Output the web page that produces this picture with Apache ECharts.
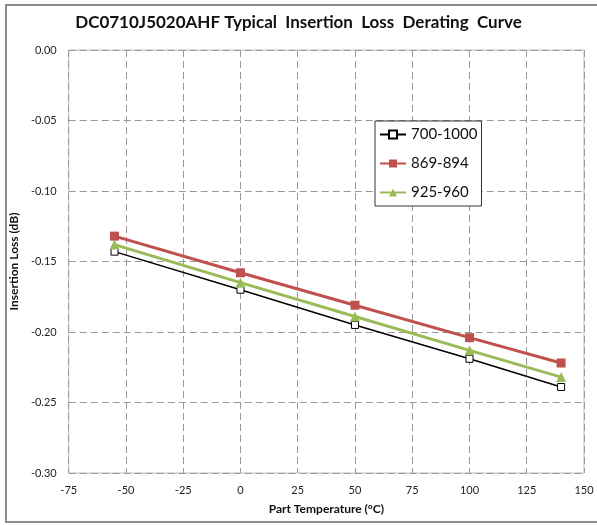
<!DOCTYPE html>
<html>
<head>
<meta charset="utf-8">
<script src="https://cdn.jsdelivr.net/npm/echarts@6/dist/echarts.min.js"></script>
<style>
  html, body { margin: 0; padding: 0; background: #fff; }
  #chart { width: 597px; height: 525px; }
</style>
</head>
<body>
<div id="chart"></div>
<script>
// temperatures (°C)
const temps = [-55, 0, 50, 100, 140];
// insertion loss (dB) per band
const loss700_1000 = [-0.143, -0.170, -0.195, -0.219, -0.239];
const loss869_894 = [-0.132, -0.158, -0.181, -0.204, -0.222];
const loss925_960 = [-0.138, -0.165, -0.189, -0.213, -0.232];
const seriesNames = ["700-1000", "869-894", "925-960"];

const pairs = (ys) => temps.map((t, i) => [t, ys[i]]);

const myChart = echarts.init(document.getElementById("chart"));
const font = "Lato, 'Open Sans', sans-serif";

let option = {
  animation: false,
  backgroundColor: "#fff",
  title: {
    text: "DC0710J5020AHF Typical  Insertion  Loss  Derating  Curve",
    left: "center",
    top: 9,
    textStyle: { fontFamily: font, fontSize: 17, fontWeight: "bold", color: "#111" },
  },
  graphic: [
    {
      // outer chart frame (right edge runs off the picture)
      type: "rect",
      shape: { x: 6, y: 5, width: 600, height: 517 },
      style: { fill: "none", stroke: "#8c8c8c", lineWidth: 2 },
      silent: true,
    },
  ],
  grid: { left: 68, right: 13, top: 50, bottom: 52, show: true, borderColor: "#bdbdbd", borderWidth: 1 },
  legend: {
    orient: "vertical",
    left: 375,
    top: 121,
    itemGap: 14,
    itemWidth: 26,
    itemHeight: 10,
    padding: [6, 4, 6, 4],
    borderColor: "#333",
    borderWidth: 1,
    backgroundColor: "#fff",
    textStyle: { fontFamily: font, fontSize: 15, color: "#111" },
    data: seriesNames,
  },
  xAxis: {
    type: "value",
    min: -75,
    max: 150,
    interval: 25,
    name: "Part Temperature (°C)",
    nameLocation: "middle",
    nameGap: 30,
    nameTextStyle: { fontFamily: font, fontSize: 12, fontWeight: "bold", color: "#111" },
    axisLine: { show: false },
    axisTick: { show: false },
    axisLabel: { fontFamily: font, fontSize: 11, color: "#222", margin: 12 },
    splitLine: { lineStyle: { type: [7, 4], color: "#999" } },
  },
  yAxis: {
    type: "value",
    min: -0.3,
    max: 0,
    interval: 0.05,
    name: "Insertion Loss (dB)",
    nameLocation: "middle",
    nameGap: 47,
    nameTextStyle: { fontFamily: font, fontSize: 12, fontWeight: "bold", color: "#111" },
    axisLine: { show: false },
    axisTick: { show: false },
    axisLabel: {
      fontFamily: font,
      fontSize: 11,
      color: "#222",
      margin: 12,
      formatter: (v) => v.toFixed(2),
    },
    splitLine: { lineStyle: { type: [7, 4], color: "#999" } },
  },
  series: [
    {
      name: seriesNames[0],
      type: "line",
      data: pairs(loss700_1000),
      symbol: "rect",
      symbolSize: 7,
      lineStyle: { color: "#000", width: 1.5 },
      itemStyle: { color: "#fff", borderColor: "#000", borderWidth: 1 },
      z: 2,
    },
    {
      name: seriesNames[1],
      type: "line",
      data: pairs(loss869_894),
      symbol: "rect",
      symbolSize: 9,
      lineStyle: { color: "#c0504d", width: 3 },
      itemStyle: { color: "#c0504d" },
      z: 4,
    },
    {
      name: seriesNames[2],
      type: "line",
      data: pairs(loss925_960),
      symbol: "triangle",
      symbolSize: 10,
      lineStyle: { color: "#9bbb59", width: 3 },
      itemStyle: { color: "#9bbb59" },
      z: 3,
    },
  ],
};

myChart.setOption(option);
</script>
</body>
</html>
